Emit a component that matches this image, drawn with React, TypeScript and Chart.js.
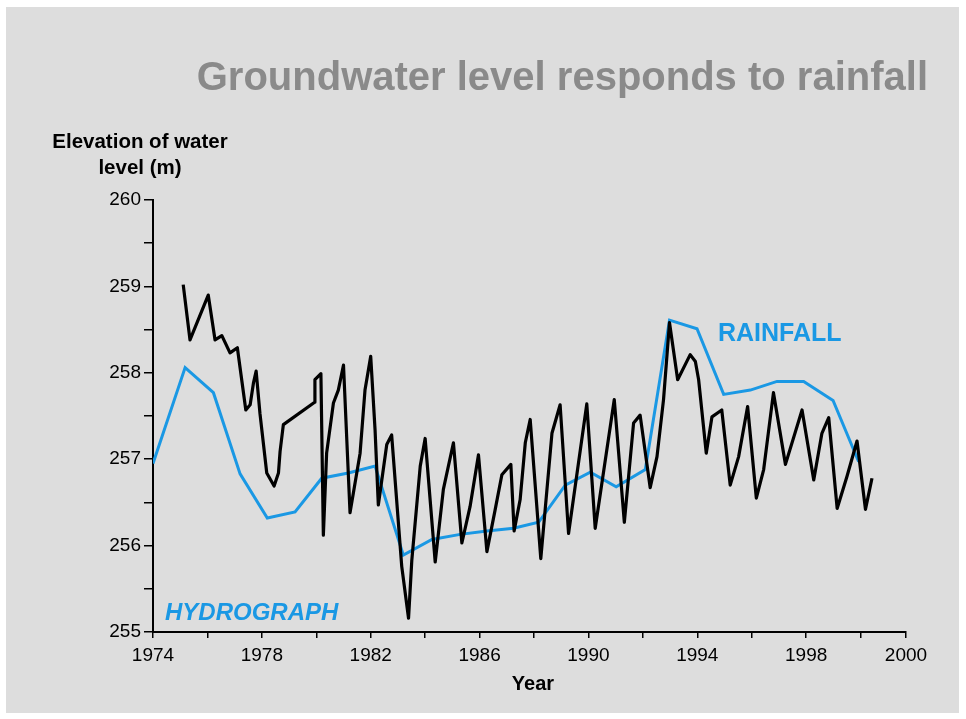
import React, { useEffect, useRef } from 'react';
import { Chart, registerables } from 'chart.js';

Chart.register(...registerables);

// Hydrograph (black) – groundwater elevation (m)
const hydroYears = [
  1975.11, 1975.36, 1976.03, 1976.28, 1976.53, 1976.83, 1977.10, 1977.41, 1977.57, 1977.69,
  1977.79, 1977.93, 1978.18, 1978.45, 1978.61, 1978.67, 1978.79, 1979.94, 1979.95, 1980.17,
  1980.26, 1980.38, 1980.63, 1980.81, 1981.00, 1981.24, 1981.61, 1981.79, 1982.00, 1982.16,
  1982.28, 1982.59, 1982.77, 1983.14, 1983.39, 1983.51, 1983.82, 1984.00, 1984.37, 1984.67,
  1985.04, 1985.35, 1985.65, 1985.96, 1986.27, 1986.57, 1986.82, 1987.15, 1987.27, 1987.49,
  1987.68, 1987.86, 1988.25, 1988.66, 1988.96, 1989.27, 1989.94, 1990.25, 1990.95, 1991.32,
  1991.66, 1991.90, 1992.27, 1992.52, 1992.76, 1992.98, 1993.28, 1993.74, 1993.93, 1994.05,
  1994.33, 1994.54, 1994.90, 1995.21, 1995.52, 1995.85, 1996.17, 1996.44, 1996.80, 1997.24,
  1997.85, 1998.28, 1998.58, 1998.83, 1999.14, 1999.50, 1999.87, 2000.18, 2000.42,
];
const hydroLevels = [
  259.02, 258.38, 258.90, 258.38, 258.43, 258.23, 258.29, 257.57, 257.63, 257.88,
  258.02, 257.53, 256.84, 256.69, 256.84, 257.09, 257.40, 257.66, 257.92, 257.99,
  256.12, 257.07, 257.65, 257.80, 258.09, 256.38, 257.07, 257.80, 258.19, 257.34,
  256.47, 257.17, 257.28, 255.76, 255.16, 255.83, 256.92, 257.24, 255.81, 256.65,
  257.19, 256.03, 256.45, 257.05, 255.93, 256.41, 256.82, 256.94, 256.17, 256.53,
  257.19, 257.46, 255.85, 257.30, 257.63, 256.14, 257.64, 256.20, 257.69, 256.27,
  257.42, 257.51, 256.67, 257.03, 257.69, 258.58, 257.92, 258.21, 258.13, 257.92,
  257.07, 257.49, 257.57, 256.70, 257.03, 257.61, 256.55, 256.88, 257.77, 256.94,
  257.57, 256.76, 257.30, 257.48, 256.43, 256.80, 257.21, 256.42, 256.78,
];

// Rainfall (blue) – plotted on the same axis
const rainYears = [
  1974.0, 1975.18, 1976.22, 1977.20, 1978.20, 1979.22, 1980.20, 1981.18, 1982.16, 1983.20,
  1984.25, 1985.29, 1986.27, 1987.25, 1988.17, 1989.15, 1990.07, 1991.02, 1992.09, 1992.98,
  1993.99, 1994.97, 1995.95, 1996.93, 1997.91, 1998.99, 1999.93,
];
const rainLevels = [
  256.95, 258.06, 257.77, 256.83, 256.32, 256.39, 256.78, 256.84, 256.92, 255.89,
  256.07, 256.13, 256.17, 256.20, 256.27, 256.70, 256.85, 256.68, 256.88, 258.61,
  258.51, 257.75, 257.80, 257.90, 257.90, 257.68, 256.97,
];

// Axis ticks
const xTickYears = [1974, 1976, 1978, 1980, 1982, 1984, 1986, 1988, 1990, 1992, 1994, 1996, 1998, 2000];
const xLabelYears = [1974, 1978, 1982, 1986, 1990, 1994, 1998];
const xAxisEnd = 2001.67;
const xAxisEndLabel = '2000';
const yMin = 255;
const yMax = 260;
const yStep = 0.5;

const FONT = '"Liberation Sans", Arial, Helvetica, sans-serif';
const BLUE = '#1a98e4';

export default function App() {
  const ref = useRef<HTMLCanvasElement | null>(null);

  useEffect(() => {
    if (!ref.current) return;
    const chart = new Chart(ref.current, {
      type: 'line',
      data: {
        datasets: [
          {
            label: 'Hydrograph',
            data: hydroYears.map((x, i) => ({ x, y: hydroLevels[i] })),
            borderColor: '#000000',
            borderWidth: 3.2,
            pointRadius: 0,
            tension: 0,
            borderJoinStyle: 'round',
            fill: false,
          },
          {
            label: 'Rainfall',
            data: rainYears.map((x, i) => ({ x, y: rainLevels[i] })),
            borderColor: BLUE,
            borderWidth: 3,
            pointRadius: 0,
            tension: 0,
            fill: false,
          },
        ],
      },
      options: {
        animation: false,
        responsive: false,
        maintainAspectRatio: false,
        layout: { padding: { top: 200, right: 60, left: 0, bottom: 0 } },
        plugins: { legend: { display: false }, tooltip: { enabled: false }, title: { display: false } },
        scales: {
          x: {
            type: 'linear',
            min: 1974,
            max: xAxisEnd,
            afterBuildTicks: (s: any) => {
              s.ticks = [...xTickYears, xAxisEnd].map((v) => ({ value: v }));
            },
            afterFit: (s: any) => {
              s.height = 87;
            },
            ticks: {
              autoSkip: false,
              maxRotation: 0,
              minRotation: 0,
              color: '#000',
              padding: 6,
              font: { family: FONT, size: 19 },
              callback: (v: any) =>
                v === xAxisEnd ? xAxisEndLabel : xLabelYears.includes(v) ? String(v) : '',
            },
            grid: { drawOnChartArea: false, drawTicks: true, tickLength: 6, color: '#000', lineWidth: 1.5 },
            border: { color: '#000', width: 2 },
          },
          y: {
            type: 'linear',
            min: yMin,
            max: yMax,
            afterFit: (s: any) => {
              s.width = 153;
            },
            ticks: {
              stepSize: yStep,
              color: '#000',
              padding: 3,
              font: { family: FONT, size: 19 },
              callback: (v: any) => (Number.isInteger(v) ? String(v) : ''),
            },
            grid: { drawOnChartArea: false, drawTicks: true, tickLength: 9, color: '#000', lineWidth: 1.5 },
            border: { color: '#000', width: 2 },
          },
        },
      },
    });
    return () => chart.destroy();
  }, []);

  const abs: React.CSSProperties = { position: 'absolute', fontFamily: FONT, whiteSpace: 'nowrap' };

  return (
    <div style={{ position: 'fixed', left: 0, top: 0, width: 966, height: 719, background: '#ffffff', overflow: 'hidden' }}>
      <div style={{ position: 'absolute', left: 6, top: 7, width: 953, height: 706, background: '#dddddd' }} />
      <canvas ref={ref} width={966} height={719} style={{ position: 'absolute', left: 0, top: 0, width: 966, height: 719 }} />
      <div style={{ ...abs, left: 0, width: 928, top: 56, textAlign: 'right', fontSize: 40, lineHeight: '40px', fontWeight: 'bold', color: '#8a8a8a' }}>
        Groundwater level responds to rainfall
      </div>
      <div style={{ ...abs, left: 40, width: 200, top: 128, textAlign: 'center', fontSize: 20.5, lineHeight: '25.6px', fontWeight: 'bold', color: '#000' }}>
        Elevation of water
        <br />
        level (m)
      </div>
      <div style={{ ...abs, left: 433, width: 200, top: 673, textAlign: 'center', fontSize: 20, lineHeight: '20px', fontWeight: 'bold', color: '#000' }}>
        Year
      </div>
      <div style={{ ...abs, left: 165, top: 600, fontSize: 24, lineHeight: '24px', fontWeight: 'bold', fontStyle: 'italic', color: BLUE }}>
        HYDROGRAPH
      </div>
      <div style={{ ...abs, left: 718, top: 320, fontSize: 25, lineHeight: '25px', fontWeight: 'bold', color: BLUE }}>
        RAINFALL
      </div>
    </div>
  );
}
